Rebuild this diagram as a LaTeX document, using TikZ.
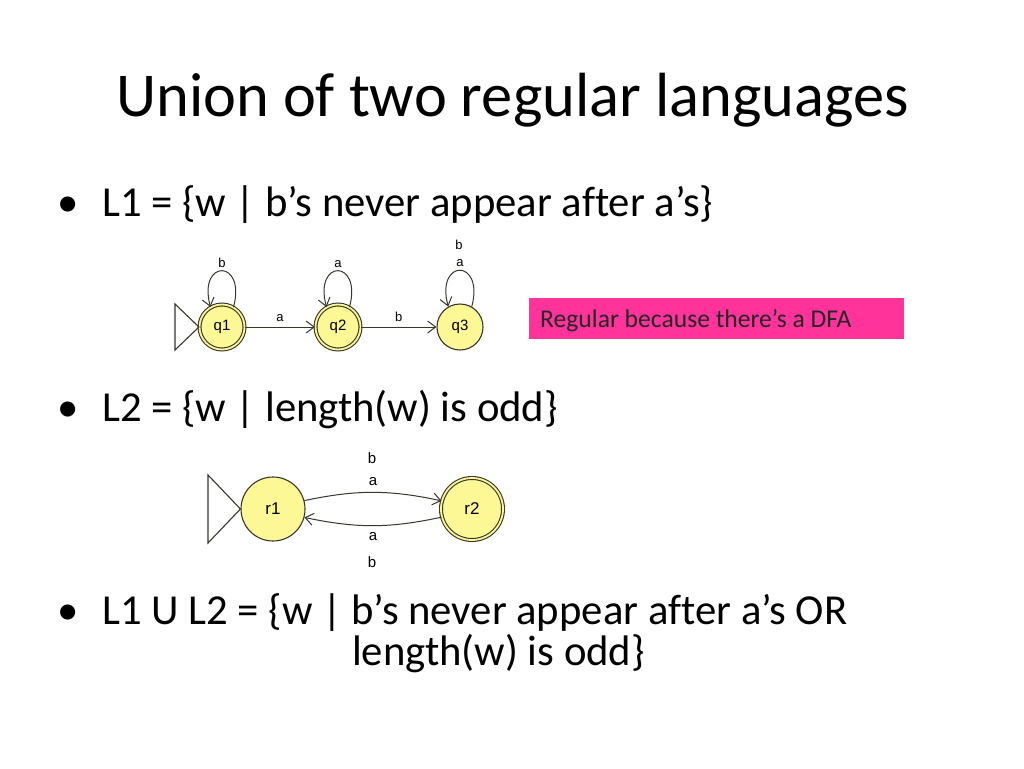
\documentclass[tikz,border=0pt]{standalone}
\usepackage{fontspec}
\setmainfont{Carlito}[Ligatures=NoCommon]
\newfontfamily\lblfont{Liberation Sans}
\usetikzlibrary{arrows.meta}
\definecolor{stfill}{RGB}{252,248,150}
\definecolor{stline}{RGB}{55,55,45}
\definecolor{pinkbox}{RGB}{255,51,153}
\tikzset{
  title/.style={anchor=base west,inner sep=0pt,font=\fontsize{62.4}{70}\selectfont},
  bullet/.style={anchor=base west,inner sep=0pt,font=\fontsize{42.7}{34}\selectfont},
  state/.style={circle,draw=stline,fill=stfill,line width=1.1pt,inner sep=0pt,font=\lblfont\fontsize{15}{16}\selectfont},
  bigstate/.style={state,font=\lblfont\fontsize{17}{18}\selectfont},
  accept/.style={double=stfill,double distance=1.8pt},
  lbl/.style={inner sep=0pt,font=\lblfont\fontsize{13}{14}\selectfont},
  biglbl/.style={inner sep=0pt,font=\lblfont\fontsize{15}{16}\selectfont},
  edge/.style={draw=stline,line width=1pt,-{Straight Barb[length=8pt,width=12pt]}},
  initri/.style={draw=stline,line width=1.1pt}
}
\begin{document}
\begin{tikzpicture}[x=1pt,y=-1pt]
\useasboundingbox (0,0) rectangle (1024,768);
\fill[white] (0,0) rectangle (1024,768);
\node[title] (t) at (116,116) {Union of two regular languages};
\node[bullet] (b1) at (57,216) {\makebox[45pt][l]{•}L1 = \{w | b’s never appear after a’s\}};
\node[bullet] (b2) at (57,421) {\makebox[45pt][l]{•}L2 = \{w | length(w) is odd\}};
\node[bullet] (b3) at (57,624) {\makebox[45pt][l]{•}\begin{tabular}[t]{@{}l@{}}L1 U L2 = \{w | b’s never appear after a’s OR\\\hspace*{250pt}length(w) is odd\}\end{tabular}};
% DFA 1
\node[state,minimum size=45pt,accept] (q1) at (222,327) {q1};
\node[state,minimum size=45pt,accept] (q2) at (338,327) {q2};
\node[state,minimum size=46pt] (q3) at (460,327) {q3};
\draw[initri] (q1.west) -- (175,304) -- (175,350) -- cycle;
\draw[edge] (q1) -- node[lbl,above=5pt] (la) {a} (q2);
\draw[edge] (q2) -- node[lbl,above=5pt] (lb) {b} (q3);
\draw[edge] (q1.60) .. controls +(75:50pt) and +(105:50pt) .. (q1.120) node[lbl,pos=0.5,above=3pt] (l1) {b};
\draw[edge] (q2.60) .. controls +(75:50pt) and +(105:50pt) .. (q2.120) node[lbl,pos=0.5,above=3pt] (l2) {a};
\draw[edge] (q3.60) .. controls +(75:50pt) and +(105:50pt) .. (q3.120) node[lbl,pos=0.5,above=3pt] (l3a) {a};
\node[lbl] (l3b) at (459,245) {b};
\node[fill=pinkbox,minimum width=375pt,minimum height=41pt,anchor=north west,inner sep=0pt] (pb) at (529,298) {};
\node[anchor=base west,inner sep=0pt,font=\fontsize{25.6}{28}\selectfont,text=black!85] (pt) at (540,327) {Regular because there’s a DFA};
% DFA 2
\node[bigstate,minimum size=64pt] (r1) at (273,509) {r1};
\node[bigstate,minimum size=62pt,accept] (r2) at (472,509) {r2};
\draw[initri] (r1.west) -- (208,475) -- (208,543) -- cycle;
\draw[edge] (r1.15) to[bend left=12] node[biglbl,above=6pt] (ua) {a} (r2.165);
\draw[edge] (r2.195) to[bend left=12] node[biglbl,below=6pt] (da) {a} (r1.345);
\node[biglbl] (ub) at (372,458) {b};
\node[biglbl] (db) at (372,562) {b};
\end{tikzpicture}
\end{document}
